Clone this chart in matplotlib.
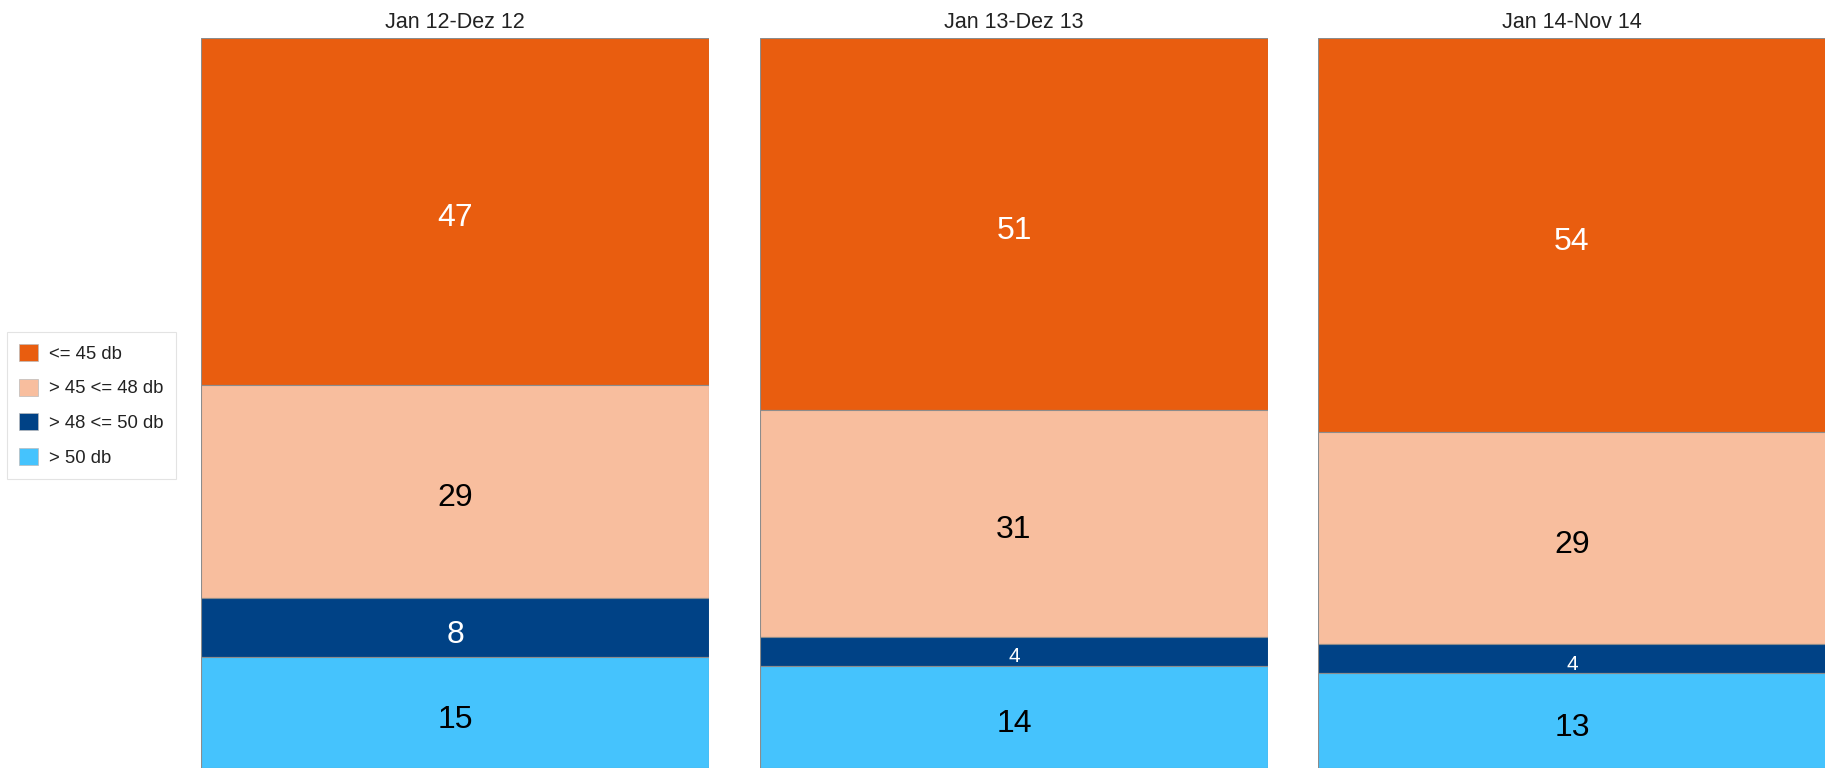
import matplotlib
matplotlib.use("Agg")
import matplotlib.pyplot as plt
from matplotlib.patches import Patch
from matplotlib.transforms import offset_copy

plt.rcParams["font.family"] = ["Liberation Sans", "DejaVu Sans"]

periods = ["Jan 12-Dez 12", "Jan 13-Dez 13", "Jan 14-Nov 14"]
classes = ["<= 45 db", "> 45 <= 48 db", "> 48 <= 50 db", "> 50 db"]
values = [
    [47, 29, 8, 15],
    [51, 31, 4, 14],
    [54, 29, 4, 13],
]
colors = ["#E95D0F", "#F8BE9E", "#004286", "#45C3FD"]
text_colors = ["white", "black", "white", "black"]

fig = plt.figure(figsize=(18.25, 7.68), dpi=100)

lefts = [201, 760, 1318]
panel_w = 508
bottom_px, top_px = 768, 38
H = 768

for i, (period, vals) in enumerate(zip(periods, values)):
    ax = fig.add_axes([lefts[i] / 1825, 1 - bottom_px / H, panel_w / 1825, (bottom_px - top_px) / H])
    label_tr = offset_copy(ax.transData, fig=fig, y=-3.5, units="dots")
    total = sum(vals)
    # 100% stacked, top class first
    cum = 100.0
    for j, v in enumerate(vals):
        h = v / total * 100
        cum -= h
        ax.bar(0, h, bottom=cum, width=1, color=colors[j], edgecolor="#8c8c8c", linewidth=0.8)
        size = 15 if v < 6 else 23
        ax.text(0, cum + h / 2, str(v), ha="center", va="center_baseline",
                color=text_colors[j], fontsize=size, transform=label_tr)
    ax.set_xlim(-0.5, 0.5)
    ax.set_ylim(0, 100)
    ax.axis("off")
    ax.set_title(period, fontsize=15.5, color="#222222", pad=7)

handles = [Patch(facecolor=c, edgecolor="#bbbbbb", linewidth=0.5) for c in colors]
leg = fig.legend(handles, classes, loc="upper left", bbox_to_anchor=(7 / 1825, 1 - 332 / H),
                 fontsize=13.3, frameon=True, fancybox=False, edgecolor="#dddddd",
                 handlelength=1.05, handleheight=1.05, handletextpad=0.6,
                 labelspacing=0.85, borderpad=0.65, borderaxespad=0)
leg.get_frame().set_linewidth(0.8)
for t in leg.get_texts():
    t.set_color("#222222")

fig.savefig("out.png", dpi=100)
